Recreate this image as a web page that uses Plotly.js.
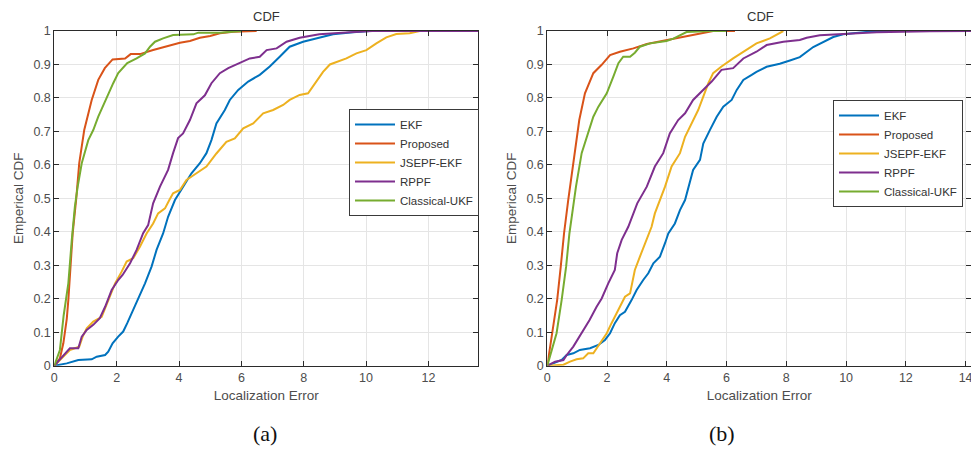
<!DOCTYPE html>
<html>
<head>
<meta charset="utf-8">
<script src="https://cdn.plot.ly/plotly-3.0.1.min.js"></script>
<style>html,body{margin:0;padding:0;background:#fff;}#chart{width:971px;height:449px;}</style>
</head>
<body>
<div id="chart"></div>
<script>
// ---------- data: panel (a) ----------
const seriesNames = ["EKF", "Proposed", "JSEPF-EKF", "RPPF", "Classical-UKF"];
const seriesColors = ["#0072BD", "#D95319", "#EDB120", "#7E2F8E", "#77AC30"];

const a_ekf_x = [0, 0.4, 0.77, 1.2, 1.36, 1.63, 1.73, 1.87, 2.05, 2.21, 2.34, 2.53, 2.69, 2.91, 3.12, 3.28, 3.49, 3.65, 3.87, 4.13, 4.4, 4.67, 4.88, 5.04, 5.2, 5.47, 5.63, 5.9, 6.22, 6.59, 6.91, 7.23, 7.55, 7.98, 8.5, 8.94, 9.58, 10.12];
const a_ekf_y = [0, 0.007, 0.017, 0.019, 0.027, 0.032, 0.042, 0.067, 0.087, 0.102, 0.127, 0.166, 0.196, 0.246, 0.296, 0.346, 0.395, 0.445, 0.495, 0.535, 0.575, 0.605, 0.635, 0.674, 0.724, 0.764, 0.794, 0.824, 0.849, 0.869, 0.894, 0.923, 0.953, 0.968, 0.98, 0.99, 0.996, 1.0];

const a_prop_x = [0, 0.18, 0.29, 0.4, 0.45, 0.5, 0.59, 0.7, 0.8, 0.96, 1.2, 1.41, 1.62, 1.87, 2.27, 2.45, 2.75, 3.17, 3.6, 4.03, 4.35, 4.67, 5.0, 5.31, 5.74, 6.49];
const a_prop_y = [0, 0.022, 0.067, 0.14, 0.196, 0.28, 0.395, 0.495, 0.605, 0.704, 0.794, 0.854, 0.889, 0.915, 0.918, 0.931, 0.931, 0.943, 0.955, 0.965, 0.97, 0.98, 0.985, 0.993, 0.998, 1.0];

const a_jsepf_x = [0, 0.29, 0.5, 0.8, 0.91, 1.04, 1.25, 1.52, 1.73, 1.95, 2.16, 2.32, 2.53, 2.75, 2.96, 3.17, 3.33, 3.55, 3.69, 3.81, 4.03, 4.24, 4.56, 4.88, 5.2, 5.52, 5.79, 6.06, 6.38, 6.7, 7.02, 7.34, 7.55, 7.87, 8.14, 8.41, 8.62, 8.84, 9.05, 9.37, 9.69, 10.01, 10.33, 10.65, 10.97, 11.4, 11.72, 11.83];
const a_jsepf_y = [0, 0.027, 0.047, 0.057, 0.087, 0.112, 0.132, 0.146, 0.196, 0.246, 0.281, 0.311, 0.321, 0.356, 0.395, 0.425, 0.455, 0.47, 0.495, 0.515, 0.525, 0.555, 0.575, 0.595, 0.634, 0.669, 0.679, 0.709, 0.724, 0.754, 0.764, 0.779, 0.794, 0.809, 0.814, 0.849, 0.878, 0.9, 0.908, 0.918, 0.933, 0.943, 0.963, 0.981, 0.991, 0.993, 1.0, 1.0];

const a_rppf_x = [0, 0.34, 0.5, 0.77, 0.88, 1.04, 1.25, 1.46, 1.63, 1.84, 2.05, 2.19, 2.43, 2.64, 2.85, 3.01, 3.17, 3.39, 3.65, 3.81, 3.97, 4.13, 4.35, 4.56, 4.83, 5.04, 5.31, 5.58, 5.95, 6.27, 6.59, 6.81, 7.13, 7.45, 7.87, 8.5, 9.48, 10.2, 13.6];
const a_rppf_y = [0, 0.037, 0.052, 0.052, 0.087, 0.107, 0.122, 0.142, 0.176, 0.226, 0.256, 0.271, 0.306, 0.346, 0.396, 0.42, 0.485, 0.535, 0.585, 0.635, 0.68, 0.694, 0.734, 0.784, 0.808, 0.844, 0.874, 0.889, 0.904, 0.918, 0.923, 0.943, 0.948, 0.968, 0.98, 0.99, 0.996, 1.0, 1.0];

const a_ukf_x = [0, 0.02, 0.18, 0.3, 0.45, 0.56, 0.66, 0.75, 0.88, 1.09, 1.25, 1.41, 1.57, 1.73, 1.89, 2.05, 2.34, 2.64, 2.91, 3.07, 3.23, 3.49, 3.81, 4.46, 4.62, 5.31, 6.0];
const a_ukf_y = [0, 0.005, 0.047, 0.15, 0.246, 0.375, 0.475, 0.535, 0.605, 0.674, 0.704, 0.744, 0.779, 0.814, 0.844, 0.874, 0.904, 0.918, 0.933, 0.953, 0.968, 0.978, 0.988, 0.99, 0.995, 0.995, 1.0];

// ---------- data: panel (b) ----------
const b_ekf_x = [0, 0.31, 0.48, 0.65, 0.87, 1.09, 1.43, 1.71, 1.93, 2.1, 2.26, 2.43, 2.6, 2.82, 2.99, 3.21, 3.38, 3.55, 3.77, 3.94, 4.05, 4.27, 4.44, 4.61, 4.72, 4.88, 5.11, 5.22, 5.44, 5.67, 5.89, 6.17, 6.34, 6.56, 6.84, 7.0, 7.34, 7.78, 8.12, 8.45, 8.9, 9.23, 9.57, 9.9, 10.35, 10.9, 11.8];
const b_ekf_y = [0, 0.012, 0.017, 0.032, 0.037, 0.047, 0.052, 0.062, 0.077, 0.097, 0.127, 0.151, 0.161, 0.196, 0.226, 0.256, 0.276, 0.306, 0.326, 0.366, 0.395, 0.425, 0.465, 0.495, 0.535, 0.585, 0.615, 0.664, 0.704, 0.744, 0.774, 0.794, 0.824, 0.854, 0.869, 0.878, 0.893, 0.902, 0.912, 0.922, 0.952, 0.967, 0.982, 0.99, 0.995, 0.999, 1.0];

const b_prop_x = [0, 0.17, 0.33, 0.45, 0.56, 0.7, 0.76, 0.9, 1.07, 1.26, 1.54, 1.82, 2.1, 2.43, 2.88, 3.33, 3.99, 4.77, 5.1, 5.55, 6.28];
const b_prop_y = [0, 0.097, 0.196, 0.296, 0.395, 0.495, 0.535, 0.635, 0.734, 0.814, 0.874, 0.899, 0.928, 0.938, 0.948, 0.961, 0.973, 0.985, 0.993, 1.0, 1.0];

const b_jsepf_x = [0, 0.54, 0.76, 0.98, 1.2, 1.37, 1.54, 1.76, 1.99, 2.15, 2.32, 2.49, 2.6, 2.77, 2.93, 3.1, 3.33, 3.49, 3.6, 3.77, 3.94, 4.16, 4.44, 4.61, 4.83, 5.05, 5.22, 5.39, 5.55, 5.83, 6.22, 6.56, 7.0, 7.45, 7.79, 7.9];
const b_jsepf_y = [0, 0.003, 0.012, 0.019, 0.022, 0.037, 0.037, 0.067, 0.097, 0.127, 0.156, 0.186, 0.206, 0.216, 0.286, 0.326, 0.376, 0.415, 0.455, 0.495, 0.535, 0.595, 0.635, 0.684, 0.724, 0.764, 0.804, 0.844, 0.874, 0.894, 0.918, 0.938, 0.963, 0.978, 0.993, 1.0];

const b_rppf_x = [0, 0.26, 0.54, 0.65, 0.87, 1.04, 1.2, 1.41, 1.65, 1.82, 2.04, 2.26, 2.34, 2.49, 2.71, 2.88, 3.01, 3.33, 3.6, 3.88, 4.1, 4.38, 4.61, 4.88, 5.22, 5.5, 5.83, 6.22, 6.56, 7.0, 7.34, 7.9, 8.45, 8.68, 9.12, 9.79, 10.35, 11.02, 12.8, 14.2];
const b_rppf_y = [0, 0.012, 0.017, 0.032, 0.057, 0.082, 0.107, 0.136, 0.176, 0.201, 0.246, 0.286, 0.336, 0.376, 0.415, 0.455, 0.485, 0.535, 0.595, 0.635, 0.694, 0.734, 0.754, 0.794, 0.824, 0.849, 0.884, 0.889, 0.918, 0.938, 0.958, 0.968, 0.973, 0.98, 0.987, 0.99, 0.992, 0.996, 0.999, 1.0];

const b_ukf_x = [0, 0.31, 0.48, 0.63, 0.74, 0.9, 0.96, 1.15, 1.37, 1.54, 1.71, 1.99, 2.21, 2.38, 2.54, 2.77, 2.93, 3.1, 3.44, 3.99, 4.22, 4.44, 4.66, 5.44, 6.0];
const b_ukf_y = [0, 0.097, 0.196, 0.296, 0.395, 0.495, 0.535, 0.635, 0.694, 0.744, 0.774, 0.814, 0.864, 0.904, 0.923, 0.923, 0.935, 0.953, 0.963, 0.97, 0.977, 0.987, 0.997, 1.0, 1.0];

const xTicksA = [0, 2, 4, 6, 8, 10, 12];
const xTicksB = [0, 2, 4, 6, 8, 10, 12, 14];
const yTicks = [0, 0.1, 0.2, 0.3, 0.4, 0.5, 0.6, 0.7, 0.8, 0.9, 1];
const yTickText = ["0", "0.1", "0.2", "0.3", "0.4", "0.5", "0.6", "0.7", "0.8", "0.9", "1"];
const panelTitle = "CDF";
const xLabel = "Localization Error";
const yLabel = "Emperical CDF";
const captions = ["(a)", "(b)"];

// ---------- build ----------
const panelA = [[a_ekf_x, a_ekf_y], [a_prop_x, a_prop_y], [a_jsepf_x, a_jsepf_y], [a_rppf_x, a_rppf_y], [a_ukf_x, a_ukf_y]];
const panelB = [[b_ekf_x, b_ekf_y], [b_prop_x, b_prop_y], [b_jsepf_x, b_jsepf_y], [b_rppf_x, b_rppf_y], [b_ukf_x, b_ukf_y]];

const traces = [];
panelA.forEach((s, i) => traces.push({
  x: s[0], y: s[1], type: 'scatter', mode: 'lines', name: seriesNames[i],
  line: {color: seriesColors[i], width: 2}, xaxis: 'x', yaxis: 'y', legend: 'legend'
}));
panelB.forEach((s, i) => traces.push({
  x: s[0], y: s[1], type: 'scatter', mode: 'lines', name: seriesNames[i],
  line: {color: seriesColors[i], width: 2}, xaxis: 'x2', yaxis: 'y2', legend: 'legend2'
}));

const W = 971, H = 449;
const tickFont = {family: 'Liberation Sans, Arial, sans-serif', size: 12.5, color: '#4d4d4d'};
const axisCommon = {
  showline: true, linecolor: '#2b2b2b', linewidth: 1, mirror: 'ticks',
  ticks: 'inside', ticklen: 5, tickcolor: '#2b2b2b', tickwidth: 1,
  showgrid: true, gridcolor: '#e5e5e5', gridwidth: 1, zeroline: false,
  tickfont: tickFont, fixedrange: true, ticklabeloverflow: 'allow'
};
const titleFont = {family: 'Liberation Sans, Arial, sans-serif', size: 13.5, color: '#4d4d4d'};
const yDom = [(H - 365.7) / H, (H - 31) / H];

const legendCommon = {
  bgcolor: '#ffffff', bordercolor: '#3a3a3a', borderwidth: 1,
  font: {family: 'Liberation Sans, Arial, sans-serif', size: 11.5, color: '#333'},
  xanchor: 'left', yanchor: 'top', itemwidth: 40, tracegroupgap: 0
};

const layout = {
  width: W, height: H,
  margin: {l: 0, r: 0, t: 0, b: 0},
  paper_bgcolor: '#ffffff', plot_bgcolor: '#ffffff',
  showlegend: true,
  xaxis: Object.assign({}, axisCommon, {
    domain: [54.3 / W, 478.3 / W], range: [0, 13.6], tickvals: xTicksA, anchor: 'y',
    title: {text: xLabel, font: titleFont, standoff: 6}
  }),
  yaxis: Object.assign({}, axisCommon, {
    domain: yDom, range: [0, 1], tickvals: yTicks, ticktext: yTickText, anchor: 'x',
    title: {text: yLabel, font: titleFont, standoff: 6}
  }),
  xaxis2: Object.assign({}, axisCommon, {
    domain: [547.3 / W, 1], range: [0, 14.18], tickvals: xTicksB, anchor: 'y2',
    title: {text: xLabel, font: titleFont, standoff: 6}
  }),
  yaxis2: Object.assign({}, axisCommon, {
    domain: yDom, range: [0, 1], tickvals: yTicks, ticktext: yTickText, anchor: 'x2',
    title: {text: yLabel, font: titleFont, standoff: 6}
  }),
  legend: Object.assign({}, legendCommon, {x: 349 / W, y: 1 - 109 / H}),
  legend2: Object.assign({}, legendCommon, {x: 833 / W, y: 1 - 100 / H}),
  annotations: [
    {text: panelTitle, xref: 'paper', yref: 'paper', x: 266 / W, y: 1 - 16 / H, showarrow: false,
     font: {family: 'Liberation Sans, Arial, sans-serif', size: 13, color: '#333'}, xanchor: 'center', yanchor: 'middle'},
    {text: panelTitle, xref: 'paper', yref: 'paper', x: 760 / W, y: 1 - 16 / H, showarrow: false,
     font: {family: 'Liberation Sans, Arial, sans-serif', size: 13, color: '#333'}, xanchor: 'center', yanchor: 'middle'},
    {text: captions[0], xref: 'paper', yref: 'paper', x: 265 / W, y: 1 - 433 / H, showarrow: false,
     font: {family: 'Liberation Serif, Times New Roman, serif', size: 22, color: '#111'}, xanchor: 'center', yanchor: 'middle'},
    {text: captions[1], xref: 'paper', yref: 'paper', x: 722 / W, y: 1 - 433 / H, showarrow: false,
     font: {family: 'Liberation Serif, Times New Roman, serif', size: 22, color: '#111'}, xanchor: 'center', yanchor: 'middle'}
  ]
};

Plotly.newPlot('chart', traces, layout, {staticPlot: true, displayModeBar: false});
</script>
</body>
</html>
